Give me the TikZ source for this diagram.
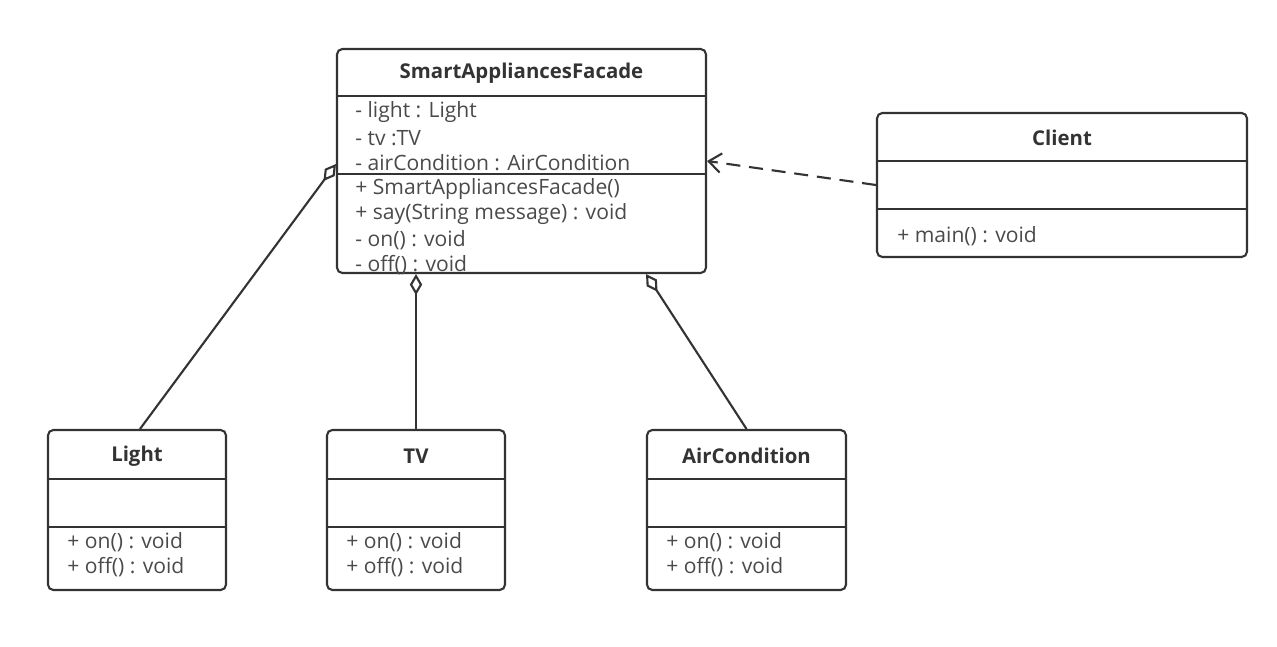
\documentclass[tikz,border=0pt]{standalone}
\usepackage{fontspec}
\setmainfont{Open Sans}
\usetikzlibrary{arrows.meta,calc}
\definecolor{line}{HTML}{333333}
\definecolor{txt}{HTML}{4A4A4A}
\tikzset{
  cls/.style    = {rectangle, rounded corners=3pt, draw=line, line width=1.2pt, inner sep=0pt},
  ctitle/.style = {font=\bfseries\fontsize{11.6}{13}\selectfont, text=line},
  member/.style = {anchor=west, inner sep=0pt, font=\fontsize{12}{14}\selectfont, text=txt},
  sep/.style    = {draw=line, line width=1.2pt},
  agg/.style    = {{Diamond[open, length=12pt, width=7pt]}-, draw=line, line width=1.2pt},
  dep/.style    = {-{Straight Barb[length=7pt, width=11pt]}, draw=line, line width=1.2pt, dash pattern=on 8pt off 5pt},
}

\begin{document}
\begin{tikzpicture}[x=0.02cm, y=-0.02cm]
  \useasboundingbox (0,0) rectangle (1277,646);

  % facade class
  \node[cls, minimum width=7.38cm, minimum height=4.48cm] (facade) at (521.5,161) {};
  \draw[sep] (337,96) -- (706,96);
  \draw[sep] (337,174) -- (706,174);
  \node[ctitle] (facadet) at (521.5,73) {SmartAppliancesFacade};
  \node[member] at (355,112) {- light : Light};
  \node[member] at (355,138) {- tv :TV};
  \node[member] at (355,163) {- airCondition : AirCondition};
  \node[member] at (355,189) {+ SmartAppliancesFacade()};
  \node[member] at (355,214) {+ say(String message) : void};
  \node[member] at (355,240) {- on() : void};
  \node[member] at (355,265) {- off() : void};

  % client class
  \node[cls, minimum width=7.4cm, minimum height=2.88cm] (client) at (1062,185) {};
  \draw[sep] (877,161) -- (1247,161);
  \draw[sep] (877,209) -- (1247,209);
  \node[ctitle] (clientt) at (1062,138) {Client};
  \node[member] at (897,236) {+ main() : void};

  % appliances
  \node[cls, minimum width=3.56cm, minimum height=3.2cm] (light) at (137,510) {};
  \draw[sep] (48,479) -- (226,479);
  \draw[sep] (48,527) -- (226,527);
  \node[ctitle] (lightt) at (137,456) {Light};
  \node[member] at (67,542) {+ on() : void};
  \node[member] at (67,567) {+ off() : void};

  \node[cls, minimum width=3.56cm, minimum height=3.2cm] (tv) at (416,510) {};
  \draw[sep] (327,479) -- (505,479);
  \draw[sep] (327,527) -- (505,527);
  \node[ctitle] (tvt) at (416,456) {TV};
  \node[member] at (346,542) {+ on() : void};
  \node[member] at (346,567) {+ off() : void};

  \node[cls, minimum width=3.98cm, minimum height=3.2cm] (air) at (746.5,510) {};
  \draw[sep] (647,479) -- (846,479);
  \draw[sep] (647,527) -- (846,527);
  \node[ctitle] (airt) at (746.5,456) {AirCondition};
  \node[member] at (666,542) {+ on() : void};
  \node[member] at (666,567) {+ off() : void};

  % relations
  \draw[agg] ($(facade.west)+(0,3)$) -- ($(light.north)+(3,0)$);
  \draw[agg] (tv.north |- facade.south) -- (tv.north);
  \draw[agg] ($(facade.south east)+(-61,0)$) -- (air.north);
  \draw[dep] (client.west) -- (facade.east);
\end{tikzpicture}
\end{document}
